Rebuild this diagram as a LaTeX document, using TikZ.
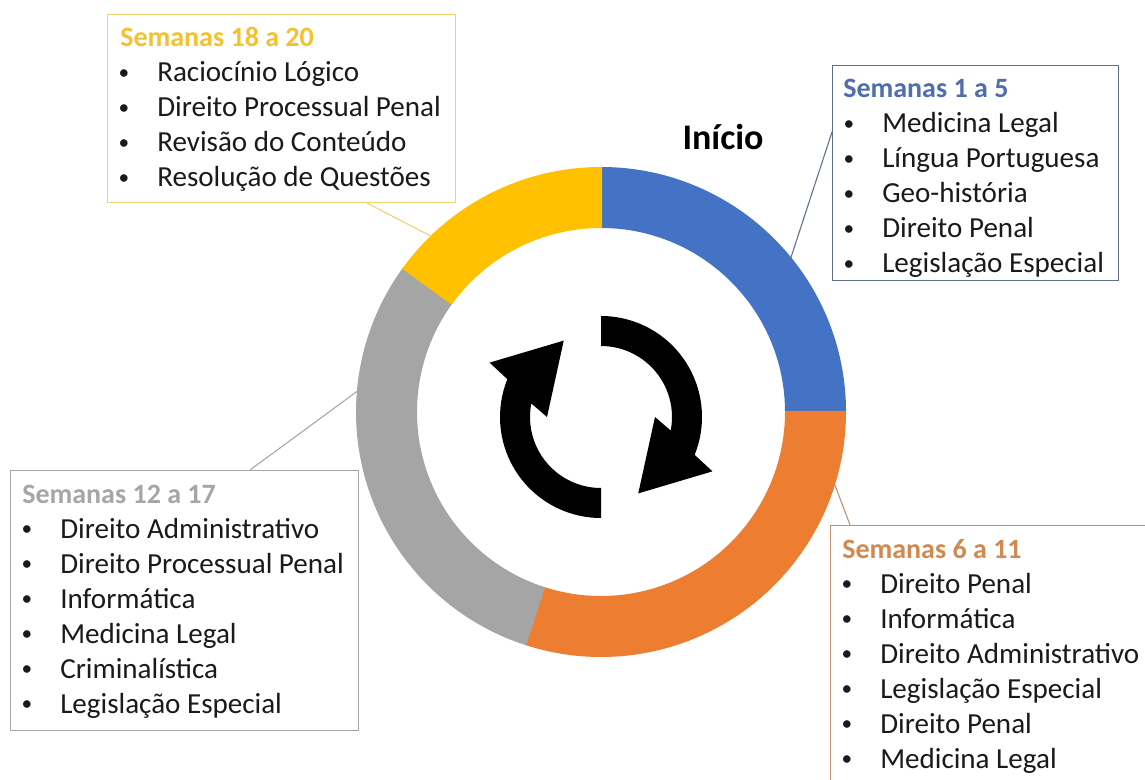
\documentclass[tikz,border=0pt]{standalone}
\usepackage{fontspec}
\setmainfont{Carlito}
\usetikzlibrary{calc}
\definecolor{cblue}{HTML}{4472C4}
\definecolor{corange}{HTML}{ED7D31}
\definecolor{cgray}{HTML}{A5A5A5}
\definecolor{cyellow}{HTML}{FFC000}
\definecolor{hblue}{HTML}{4F6EAD}
\definecolor{horange}{HTML}{D08A50}
\definecolor{hgray}{HTML}{A6A6A6}
\definecolor{hyellow}{HTML}{F2C230}
\definecolor{lblue}{HTML}{5B6F8F}
\definecolor{lorange}{HTML}{C09070}
\definecolor{lgray}{HTML}{A6A6A6}
\definecolor{lyellow}{HTML}{F0D270}
\definecolor{txt}{HTML}{1A1A1A}
\tikzset{
  infobox/.style={draw, line width=0.8pt, anchor=north west, inner sep=0pt, fill=white},
  hdr/.style={anchor=base west, inner sep=0pt, font=\fontsize{21}{25}\selectfont\bfseries},
  itm/.style={anchor=base west, inner sep=0pt, text=txt, font=\fontsize{21.8}{26}\selectfont},
  bul/.style={anchor=base, inner sep=0pt, text=txt, font=\fontsize{16}{20}\selectfont, yshift=2pt},
  conn/.style={line width=0.8pt},
  seg/.style={draw=white, line width=1.5pt}
}
\begin{document}
\begin{tikzpicture}[x=0.75pt,y=0.75pt]
\useasboundingbox (0,0) rectangle (1145,779);
\fill[white] (0,0) rectangle (1145,779);

% ring
\begin{scope}[shift={(601,367)}]
  \fill[seg, cblue] (90:244) arc[start angle=90, end angle=0, radius=244] -- (0:185) arc[start angle=0, end angle=90, radius=185] -- cycle;
  \fill[seg, corange] (0:244) arc[start angle=0, end angle=-108, radius=244] -- (-108:185) arc[start angle=-108, end angle=0, radius=185] -- cycle;
  \fill[seg, cgray] (-108:244) arc[start angle=-108, end angle=-216, radius=244] -- (-216:185) arc[start angle=-216, end angle=-108, radius=185] -- cycle;
  \fill[seg, cyellow] (144:244) arc[start angle=144, end angle=90, radius=244] -- (90:185) arc[start angle=90, end angle=144, radius=185] -- cycle;
  \coordinate (ry) at (134:244);
  \coordinate (rb) at (39:244);
  \coordinate (ro) at (-17:244);
  \coordinate (rg) at (175:244);
\end{scope}

% refresh icon
\begin{scope}[shift={(601,362)}]
  \fill[black] (90:101) arc[start angle=90, end angle=-22, radius=101] -- (-26:124) -- (-64:85) -- (0:54) -- (-11:71) arc[start angle=-11, end angle=90, radius=71] -- cycle;
  \fill[black] (270:101) arc[start angle=270, end angle=158, radius=101] -- (154:124) -- (116:85) -- (180:54) -- (169:71) arc[start angle=169, end angle=270, radius=71] -- cycle;
\end{scope}

\node[font=\fontsize{27}{32}\selectfont\bfseries, text=black] (inicio) at (723,642) {Início};

% yellow box
\node[infobox, draw=lyellow, minimum width=261pt, minimum height=141pt] (byl) at (107,765) {};
\node[hdr, text=hyellow] (hyl) at (120,732) {Semanas 18 a 20};
\foreach \t [count=\i] in {Raciocínio Lógico, Direito Processual Penal, Revisão do Conteúdo, Resolução de Questões}{
  \node[bul] (ybul\i) at (124,{732-35*\i}) {•};
  \node[itm] (yitm\i) at (157,{732-35*\i}) {\t};
}

% blue box
\node[infobox, draw=lblue, minimum width=214.5pt, minimum height=161.25pt] (bbl) at (832,714) {};
\node[hdr, text=hblue] (hbl) at (843,681) {Semanas 1 a 5};
\foreach \t [count=\i] in {Medicina Legal, Língua Portuguesa, Geo-história, Direito Penal, Legislação Especial}{
  \node[bul] (bbul\i) at (849,{681-35*\i}) {•};
  \node[itm] (bitm\i) at (882,{681-35*\i}) {\t};
}

% gray box
\node[infobox, draw=lgray, minimum width=261pt, minimum height=195pt] (bgr) at (10,309) {};
\node[hdr, text=hgray] (hgr) at (22,276) {Semanas 12 a 17};
\foreach \t [count=\i] in {Direito Administrativo, Direito Processual Penal, Informática, Medicina Legal, Criminalística, Legislação Especial}{
  \node[bul] (gbul\i) at (27,{276-35*\i}) {•};
  \node[itm] (gitm\i) at (60,{276-35*\i}) {\t};
}

% orange box
\node[infobox, draw=lorange, minimum width=255pt, minimum height=225pt] (bor) at (830,254) {};
\node[hdr, text=horange] (hor) at (842,221) {Semanas 6 a 11};
\foreach \t [count=\i] in {Direito Penal, Informática, Direito Administrativo, Legislação Especial, Direito Penal, Medicina Legal}{
  \node[bul] (obul\i) at (847,{221-35*\i}) {•};
  \node[itm] (oitm\i) at (880,{221-35*\i}) {\t};
}

% connectors
\draw[conn, lyellow] ($(byl.south west)+(260,0)$) -- (ry);
\draw[conn, lblue] ($(bbl.north west)+(0,-67)$) -- (rb);
\draw[conn, lorange] ($(bor.north west)+(20,0)$) -- (ro);
\draw[conn, lgray] ($(bgr.north west)+(240,0)$) -- (rg);
\end{tikzpicture}
\end{document}
